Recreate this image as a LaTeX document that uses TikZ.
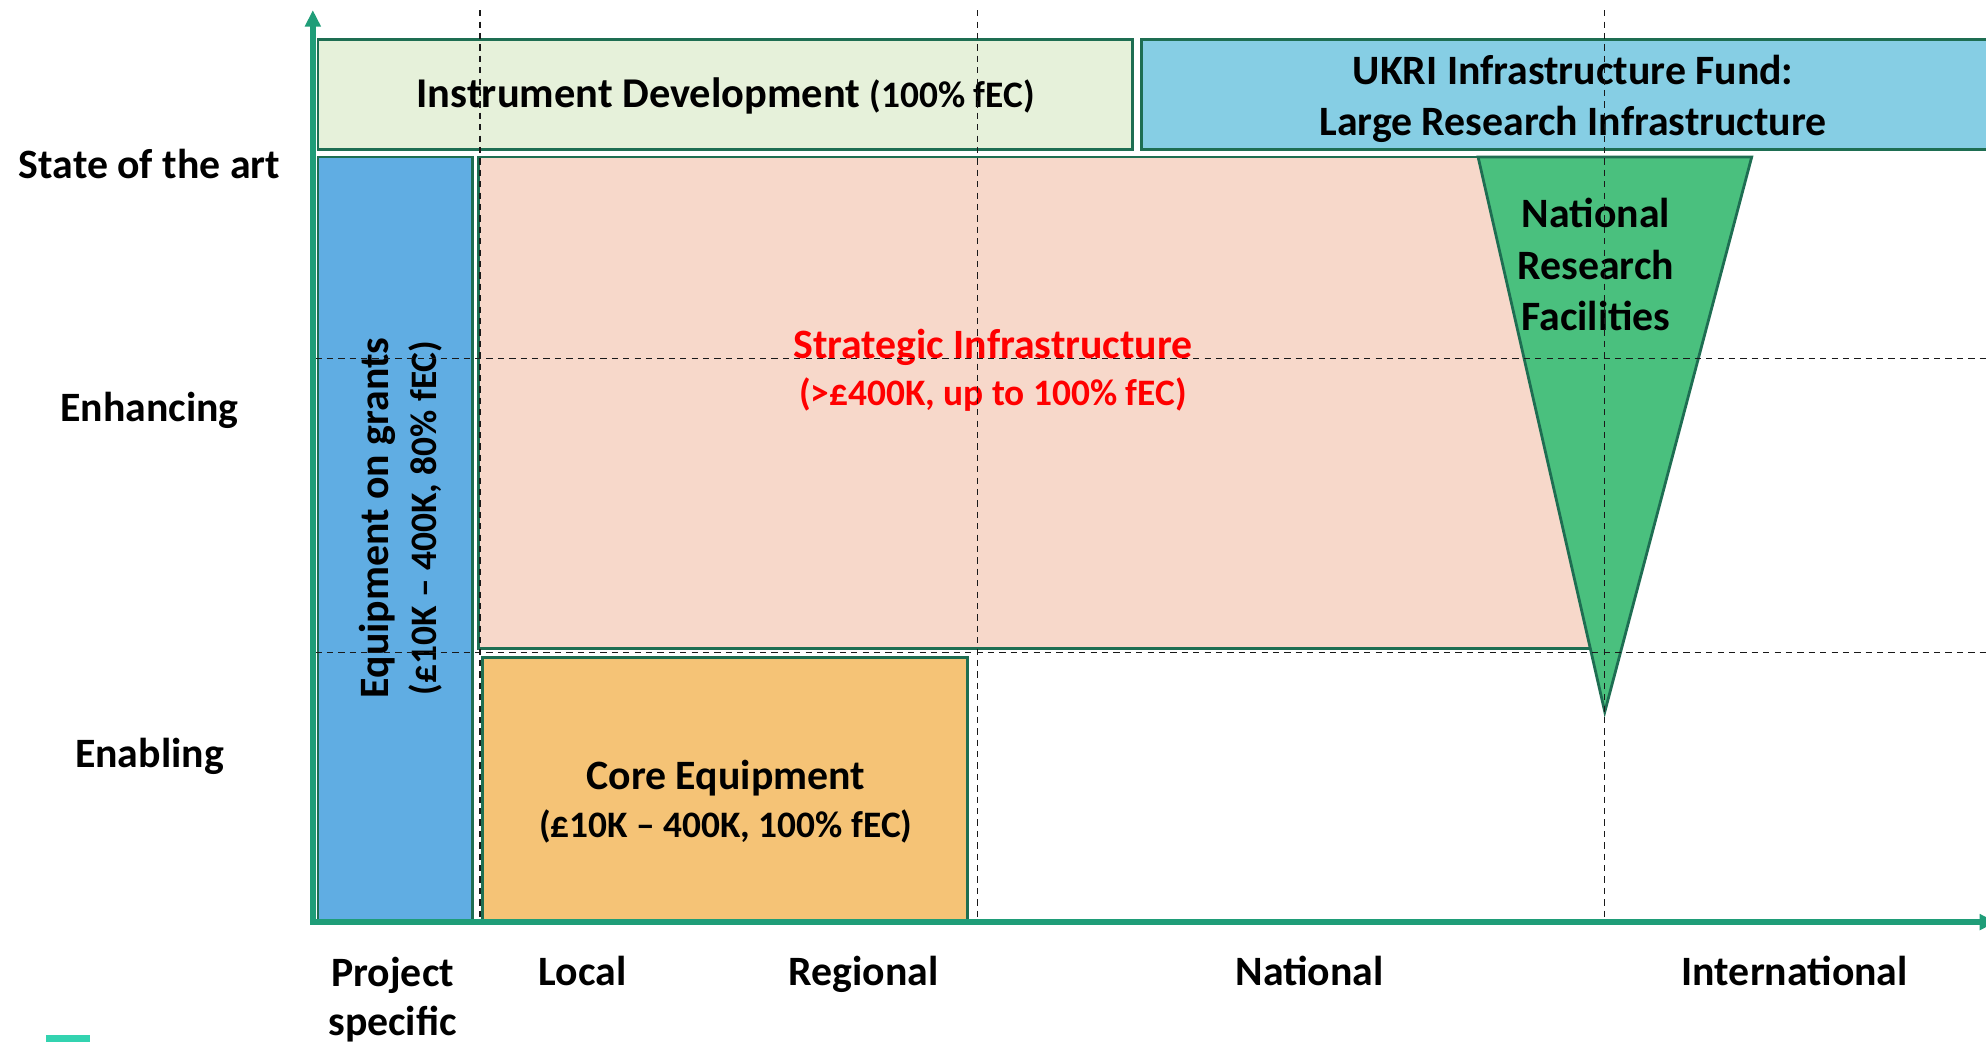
\documentclass[tikz,border=0pt]{standalone}
\usepackage{fontspec}
\setmainfont{Carlito}
\usetikzlibrary{arrows.meta}
\definecolor{axisc}{RGB}{31,157,120}
\definecolor{bdr}{RGB}{30,110,82}
\definecolor{instr}{RGB}{230,241,218}
\definecolor{ukri}{RGB}{134,206,228}
\definecolor{grant}{RGB}{96,173,227}
\definecolor{strat}{RGB}{247,216,202}
\definecolor{nrf}{RGB}{74,192,126}
\definecolor{corec}{RGB}{245,195,118}
\definecolor{tealbar}{RGB}{51,211,176}
\definecolor{stratred}{RGB}{255,0,0}
\begin{document}
\begin{tikzpicture}[x=1pt,y=-1pt,
  box/.style={draw=bdr, line width=2.2pt, inner sep=0pt, outer sep=0pt},
  lbl/.style={font=\fontsize{33}{40}\selectfont\bfseries, inner sep=0pt, align=center},
  grid/.style={line width=1pt, dash pattern=on 5pt off 4pt, black!90},
  axisline/.style={line width=4.2pt, draw=axisc, -{Triangle[length=13pt,width=12pt]}}]
\useasboundingbox (0,0) rectangle (1568,823);
\clip (0,0) rectangle (1568,823);
\fill[white] (0,0) rectangle (1568,823);

% boxes
\node[box, fill=instr, minimum width=643pt, minimum height=87pt, anchor=north west] (instrbox) at (251,31) {};
\node[box, fill=ukri, minimum width=682pt, minimum height=87pt, anchor=north west] (ukribox) at (901,31) {};
\node[box, fill=grant, minimum width=122pt, minimum height=604pt, anchor=north west] (grantbox) at (251,124) {};
\node[box, fill=strat, minimum width=884pt, minimum height=388pt, anchor=north west] (stratbox) at (378,124) {};
\node[box, fill=corec, minimum width=383pt, minimum height=209pt, anchor=north west] (corebox) at (381,519) {};
\draw[box, fill=nrf, line join=miter] (1167,124) -- (1383,124) -- (1267,562) -- cycle;

% box texts
\node[lbl, font=\fontsize{33.5}{40}\selectfont\bfseries] (instrtxt) at (573,76) {Instrument Development {\fontsize{29.5}{38}\selectfont(100\% fEC)}};
\node[lbl] (ukritxt) at (1242,78) {UKRI Infrastructure Fund:\\Large Research Infrastructure};
\node[lbl, font=\fontsize{33}{40.5}\selectfont\bfseries] (nrftxt) at (1260,209) {National\\Research\\Facilities};
\node[lbl, text=stratred, font=\fontsize{29.5}{37}\selectfont\bfseries] (strattxt) at (784,292) {{\fontsize{33}{37}\selectfont Strategic Infrastructure}\\(>£400K, up to 100\% fEC)};
\node[lbl, font=\fontsize{29.5}{38}\selectfont\bfseries] (coretxt) at (573,633) {{\fontsize{33}{38}\selectfont Core Equipment}\\(£10K – 400K, 100\% fEC)};
\node[lbl, rotate=90, font=\fontsize{29.5}{38}\selectfont\bfseries] (granttxt) at (316,409) {{\fontsize{33}{38}\selectfont Equipment on grants}\\(£10K – 400K, 80\% fEC)};

% axis labels
\node[lbl, anchor=base] (sota) at (118,141) {State of the art};
\node[lbl, anchor=base] (enh) at (118,333) {Enhancing};
\node[lbl, anchor=base] (enab) at (118,606) {Enabling};
\node[lbl, font=\fontsize{33}{39}\selectfont\bfseries] (proj) at (310,789) {Project\\specific};
\node[lbl, anchor=base] (local) at (460,778) {Local};
\node[lbl, anchor=base] (reg) at (682,778) {Regional};
\node[lbl, anchor=base] (nat) at (1034,778) {National};
\node[lbl, anchor=base] (intl) at (1417,778) {International};

% dashed grid
\draw[grid] (379,8) -- (379,728);
\draw[grid] (772,8) -- (772,728);
\draw[grid] (1267,8) -- (1267,728);
\draw[grid] (249,283) -- (1568,283);
\draw[grid] (249,515) -- (1568,515);

% axes
\coordinate (origin) at (247,728);
\coordinate (ytop) at (247,8);
\coordinate (xend) at (1576,728);
\draw[axisline] (247,730) -- (ytop);
\draw[axisline] (245,728) -- (xend);

% slide marker
\fill[tealbar] (36,817) rectangle (71,823);
\end{tikzpicture}
\end{document}
